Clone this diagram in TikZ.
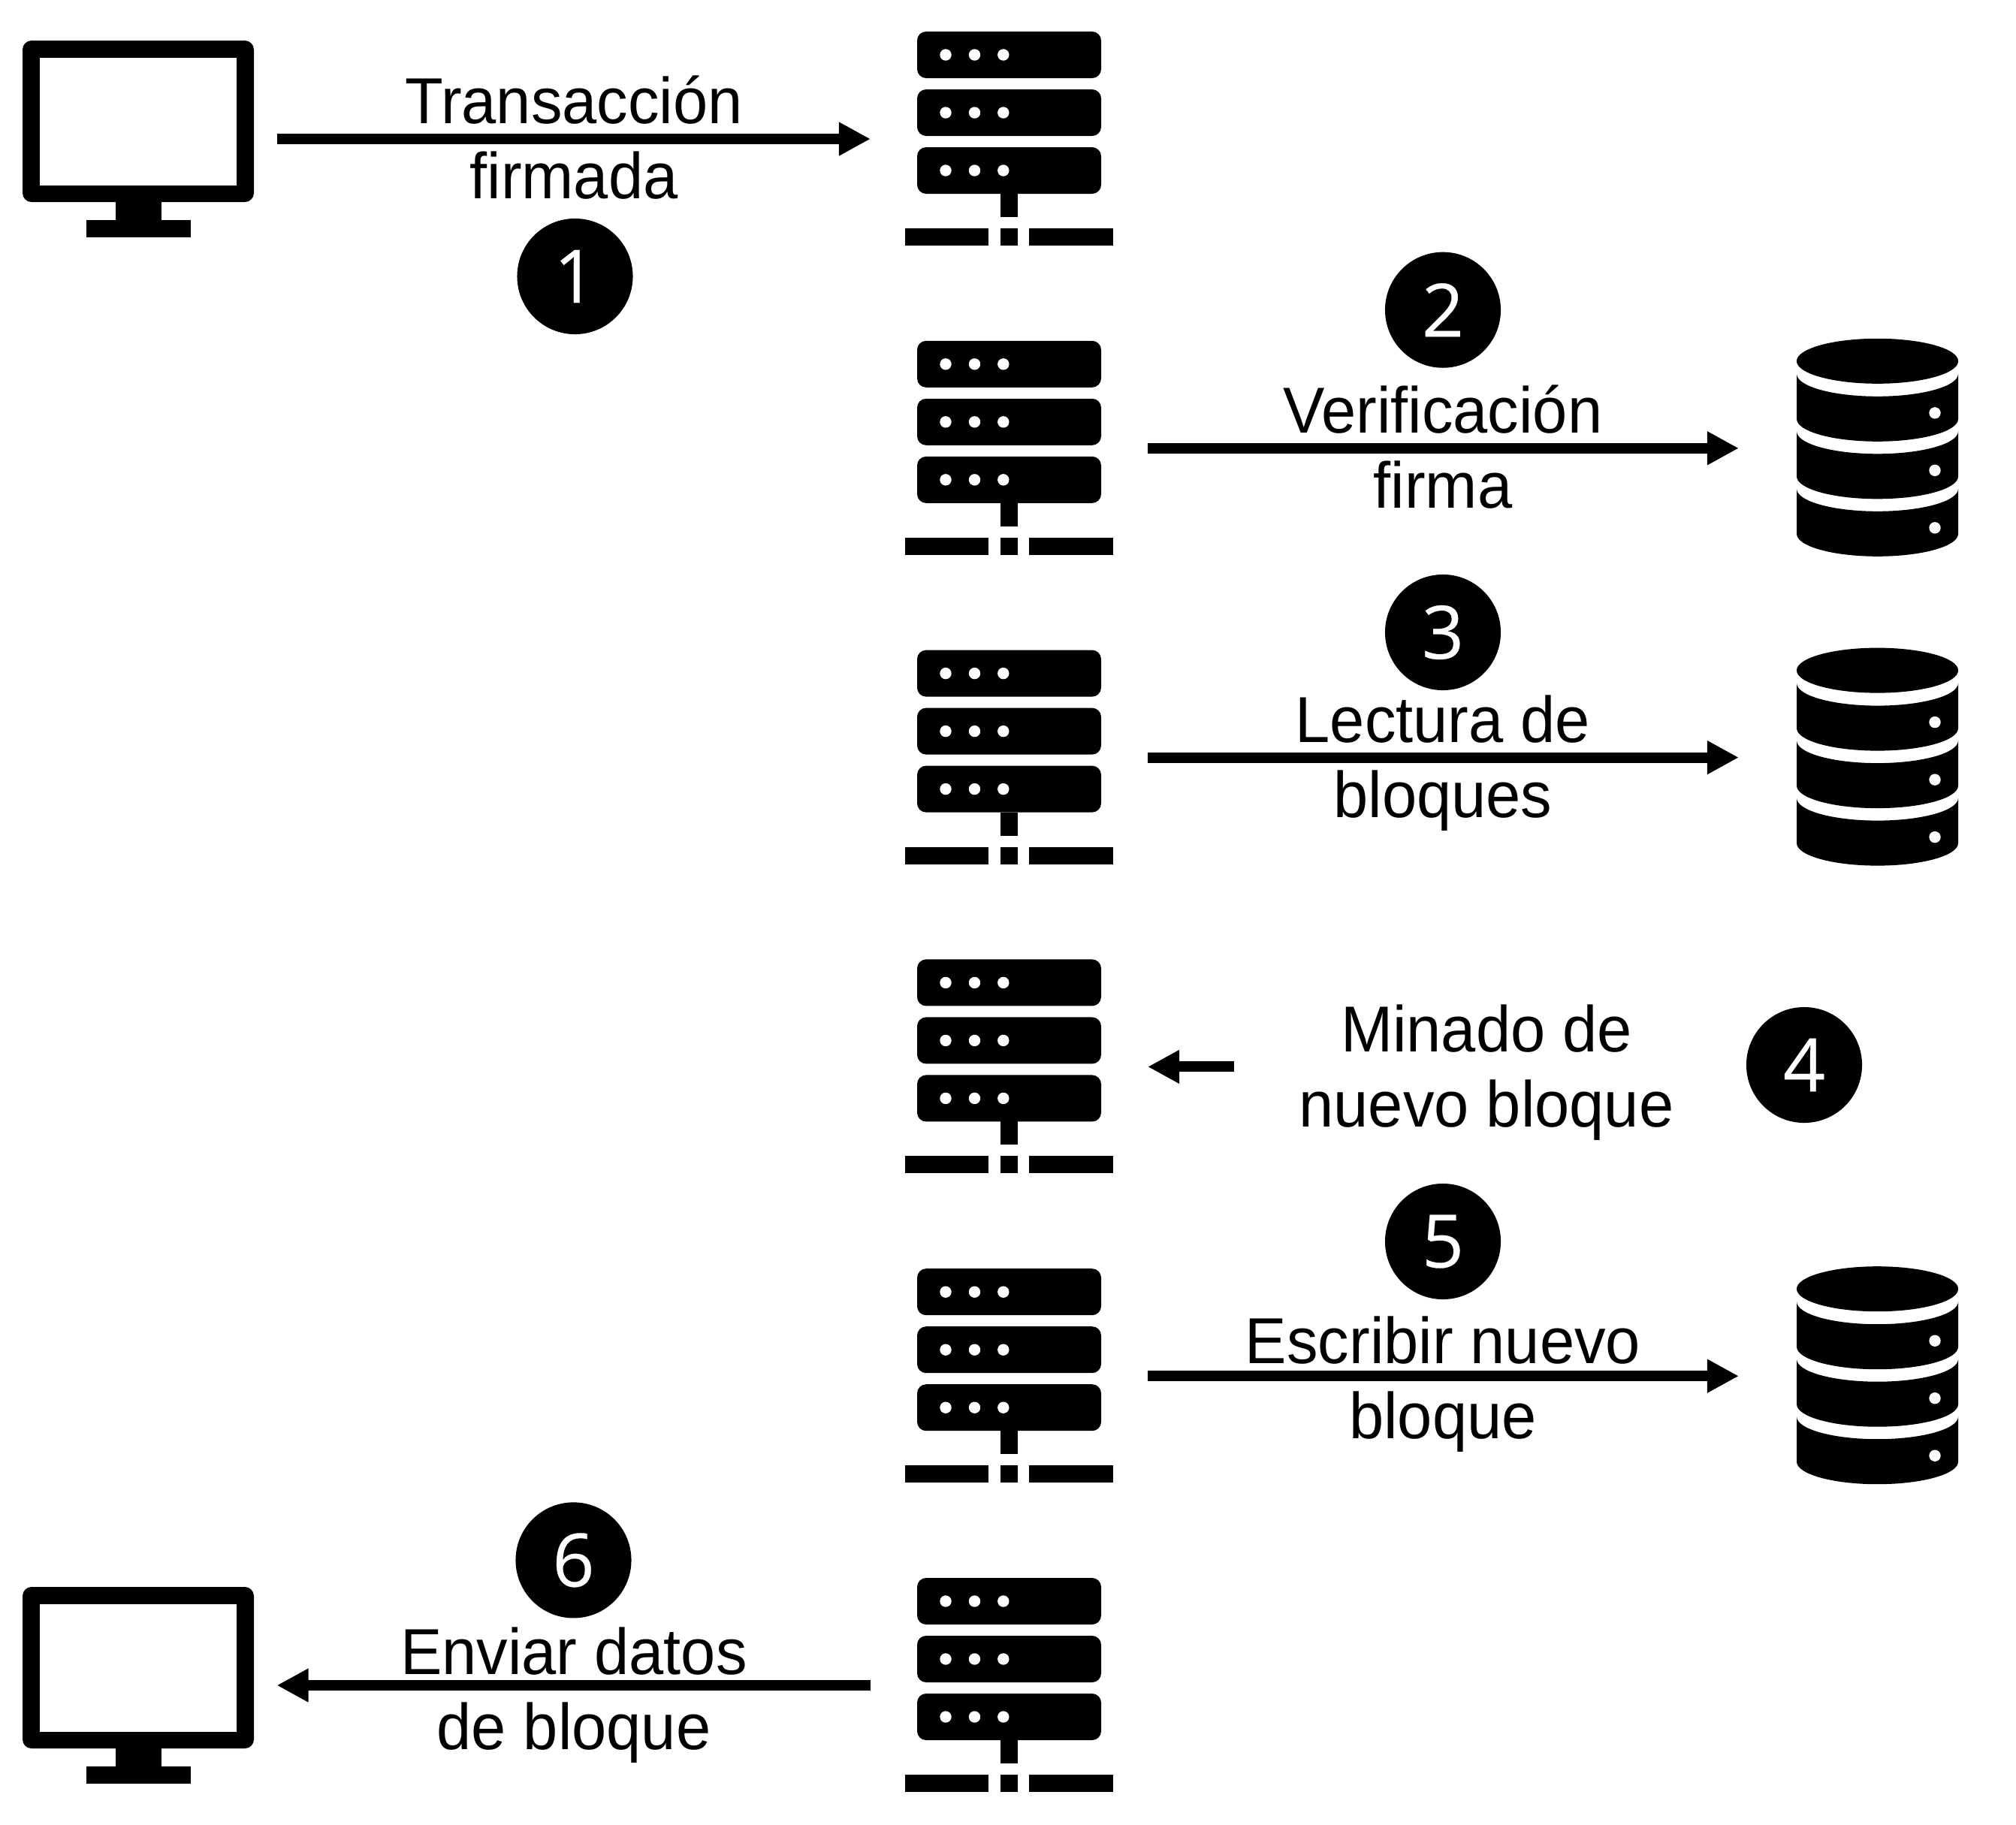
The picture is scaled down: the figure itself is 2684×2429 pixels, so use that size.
\documentclass[tikz,border=0pt]{standalone}
\usepackage{fontspec}
\setmainfont[FakeStretch=0.96]{Liberation Sans}
\newfontfamily\numfont[FakeBold=0.3]{Open Sans}
\usetikzlibrary{arrows.meta}
\tikzset{
  server/.pic={
    \foreach \r in {-143,-66,11} {
      \fill[rounded corners=.12cm] (-122.5,\r) rectangle (122.5,\r+62);
      \foreach \d in {-84.5,-46,-7.7}
        \fill[white] (\d,\r+31) circle (.077cm);
    }
    \fill (-11.5,73) rectangle (11.5,104);
    \fill (-138.5,119) rectangle (-27.5,142);
    \fill (-11.5,119) rectangle (11.5,142);
    \fill (26.5,119) rectangle (138.5,142);
  },
  database/.pic={
    \fill (0,-116) ellipse (1.075cm and .3cm);
    \foreach \t in {-99,-22.5,54} {
      \fill (-107.5,\t) -- (-107.5,\t+60)
        .. controls (-107.5,\t+76.6) and (-59.4,\t+90) .. (0,\t+90)
        .. controls (59.4,\t+90) and (107.5,\t+76.6) .. (107.5,\t+60)
        -- (107.5,\t)
        .. controls (107.5,\t+16.6) and (59.4,\t+30) .. (0,\t+30)
        .. controls (-59.4,\t+30) and (-107.5,\t+16.6) .. (-107.5,\t);
      \fill[white] (76.5,\t+52) circle (.077cm);
    }
  },
  monitor/.pic={
    \fill[rounded corners=.12cm] (-154,-131) rectangle (154,84);
    \fill[white] (-131,-108) rectangle (131,62);
    \fill (-30.5,84) rectangle (30.5,108);
    \fill (-69.5,108) rectangle (69.5,131);
  }
}
\begin{document}
\begin{tikzpicture}[x=.01cm,y=-.01cm,>={Triangle[length=11.95pt,width=11.95pt]},
    icon node/.style={inner sep=0pt,outer sep=0pt,minimum width=3.69cm,minimum height=3cm},
    flow/.style={->,line width=3.98pt},
    msg node/.style={anchor=base,align=center,inner sep=0pt,font=\fontsize{24.6}{28.3}\selectfont},
    num node/.style={circle,fill=black,text=white,inner sep=0pt,minimum size=1.54cm,font=\numfont\fontsize{27.9}{30}\selectfont}]
  \useasboundingbox (0,0) rectangle (2684,2429);
  \node[icon node] (pcA) at (184,185) {};
  \node[icon node] (pcB) at (184,2244) {};
  \node[icon node] (srvA) at (1343.5,185) {};
  \node[icon node] (srvB) at (1343.5,596.8) {};
  \node[icon node] (srvC) at (1343.5,1008.6) {};
  \node[icon node] (srvD) at (1343.5,1420.4) {};
  \node[icon node] (srvE) at (1343.5,1832.2) {};
  \node[icon node] (srvF) at (1343.5,2244) {};
  \node[icon node] (dbB) at (2499.5,596.8) {};
  \node[icon node] (dbC) at (2499.5,1008.6) {};
  \node[icon node] (dbE) at (2499.5,1832.2) {};
  \foreach \n in {pcA,pcB}
    \pic at (\n) {monitor};
  \foreach \n in {srvA,srvB,srvC,srvD,srvE,srvF}
    \pic at (\n) {server};
  \foreach \n in {dbB,dbC,dbE}
    \pic at (\n) {database};
  \coordinate (mine) at (1643,1420.4);
  % arrows
  \draw[flow] (pcA) -- (srvA);
  \draw[flow] (srvB) -- (dbB);
  \draw[flow] (srvC) -- (dbC);
  \draw[flow] (mine) -- (srvD);
  \draw[flow] (srvE) -- (dbE);
  \draw[flow] (srvF) -- (pcB);
  % labels
  \node[msg node] (msgA) at (764,264.5) {Transacción\\firmada};
  \node[msg node] (msgB) at (1921,676.5) {Verificación\\firma};
  \node[msg node] (msgC) at (1921,1088) {Lectura de\\bloques};
  \node[msg node] (msgD) at (1979,1500) {Minado de\\nuevo bloque};
  \node[msg node] (msgE) at (1921,1915) {Escribir nuevo\\bloque};
  \node[msg node] (msgF) at (764,2329) {Enviar datos\\de bloque};
  % numbers
  \node[num node] (numA) at (765.5,368) {1};
  \node[num node] (numB) at (1921,412.7) {2};
  \node[num node] (numC) at (1921,842) {3};
  \node[num node] (numD) at (2402,1418) {4};
  \node[num node] (numE) at (1921,1653) {5};
  \node[num node] (numF) at (763.5,2077.4) {6};
\end{tikzpicture}
\end{document}
